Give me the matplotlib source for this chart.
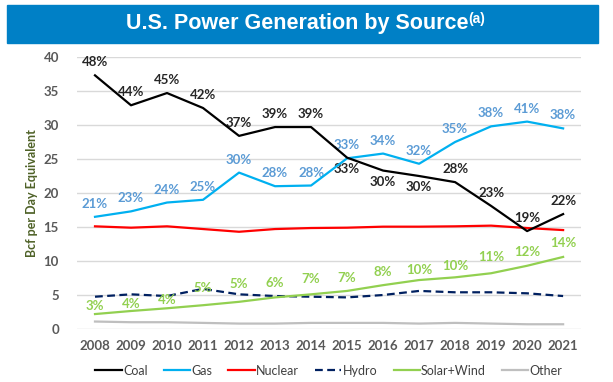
import numpy as np
import matplotlib.pyplot as plt
from matplotlib.patches import Rectangle
from matplotlib.text import Annotation

plt.rcParams['font.family'] = ['Lato', 'DejaVu Sans']

# data
years = list(range(2008, 2022))
coal = [37.3, 32.9, 34.7, 32.5, 28.4, 29.7, 29.7, 25.2, 23.3, 22.5, 21.6, 18.1, 14.4, 16.9]
gas = [16.5, 17.3, 18.6, 19.0, 23.0, 21.0, 21.1, 25.1, 25.8, 24.3, 27.5, 29.8, 30.5, 29.5]
nuclear = [15.1, 14.9, 15.1, 14.7, 14.3, 14.7, 14.85, 14.9, 15.05, 15.05, 15.1, 15.2, 14.85, 14.55]
hydro = [4.75, 5.1, 4.85, 5.9, 5.1, 4.85, 4.75, 4.65, 5.0, 5.6, 5.4, 5.4, 5.25, 4.85]
solar_wind = [2.2, 2.65, 3.05, 3.5, 4.0, 4.65, 5.1, 5.6, 6.45, 7.2, 7.6, 8.2, 9.3, 10.6]
other = [1.1, 1.0, 1.0, 0.9, 0.8, 0.8, 0.9, 0.9, 0.9, 0.8, 0.9, 0.8, 0.7, 0.7]

coal_pct = [48, 44, 45, 42, 37, 39, 39, 33, 30, 30, 28, 23, 19, 22]
gas_pct = [21, 23, 24, 25, 30, 28, 28, 33, 34, 32, 35, 38, 41, 38]
solar_pct = [3, 4, 4, 5, 5, 6, 7, 7, 8, 10, 10, 11, 12, 14]

# label offsets in pixels (positive = above the line)
coal_off = [13, 13, 13, 13, 13, 13, 13, -11, -11, -11, 13, 13, 13, 13]
solar_off = [8, 7, 8, 17, 18, 14, 15, 13, 13, 10, 11, 16, 14, 14]

fig = plt.figure(figsize=(6.13, 3.82), dpi=100)
ax = fig.add_axes([0.1256, 0.1387, 0.8224, 0.7121])

# title bar
fig.patches.append(Rectangle((7 / 613, 1 - 43 / 382), 591 / 613, 38 / 382,
                             transform=fig.transFigure, color='#0080C6', zorder=0))
title_font = ['Liberation Sans', 'DejaVu Sans']
t = fig.text(297 / 613, 1 - 24 / 382, 'U.S. Power Generation by Source', color='white',
             fontsize=15.5, fontweight='bold', ha='center', va='center',
             family=title_font)
fig.add_artist(Annotation('(a)', xy=(1, 1.05), xycoords=t, color='white', fontsize=10,
                          fontweight='bold', va='top', ha='left', family=title_font))

ax.plot(years, coal, color='black', lw=1.6, label='Coal', zorder=5)
ax.plot(years, gas, color='#00B0F0', lw=1.6, label='Gas', zorder=4)
ax.plot(years, nuclear, color='#FF0000', lw=1.6, label='Nuclear', zorder=3)
ax.plot(years, hydro, color='#002060', lw=1.6, ls=(0, (3.5, 2)), label='Hydro', zorder=3)
ax.plot(years, solar_wind, color='#92D050', lw=1.6, label='Solar+Wind', zorder=4)
ax.plot(years, other, color='#BFBFBF', lw=1.6, label='Other', zorder=2)

lab = dict(textcoords='offset pixels', ha='center', va='center', fontsize=9.5,
           fontweight='bold')
for x, y, p, o in zip(years, coal, coal_pct, coal_off):
    ax.annotate(f'{p}%', (x, y), xytext=(0, o), color='#262626', **lab)
for x, y, p in zip(years, gas, gas_pct):
    ax.annotate(f'{p}%', (x, y), xytext=(0, 13), color='#5B9BD5', **lab)
for x, y, p, o in zip(years, solar_wind, solar_pct, solar_off):
    ax.annotate(f'{p}%', (x, y), xytext=(0, o), color='#92D050', **lab)

ax.set_xlim(2007.5, 2021.5)
ax.set_ylim(0, 40)
ax.set_yticks(np.arange(0, 41, 5))
ax.set_xticks(years)
ax.grid(axis='y', color='#D9D9D9', lw=1)
ax.set_axisbelow(True)
for s in ax.spines.values():
    s.set_visible(False)
ax.tick_params(length=0, labelsize=9.5, colors='#595959', pad=8)
ax.tick_params(axis='y', pad=13)
for lbl in ax.get_xticklabels() + ax.get_yticklabels():
    lbl.set_fontweight('bold')
ax.set_ylabel('Bcf per Day Equivalent', fontsize=9, fontweight='bold',
              color='#4F6228', labelpad=4)

ax.legend(loc='upper center', bbox_to_anchor=(0.5, -0.09), ncol=6, frameon=False,
          fontsize=9, handlelength=2.1, handletextpad=0.1, columnspacing=1.3,
          labelcolor='#404040')

fig.savefig('out.png', dpi=100)
